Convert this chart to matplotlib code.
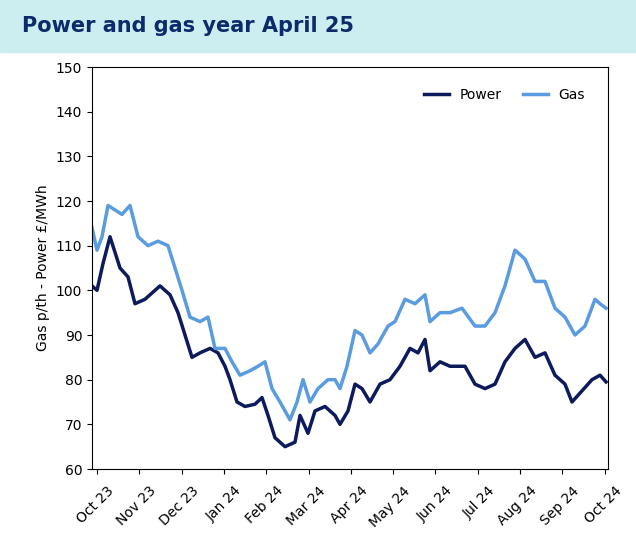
import matplotlib
matplotlib.use("Agg")
import matplotlib.pyplot as plt
import numpy as np

month_labels = ["Oct 23","Nov 23","Dec 23","Jan 24","Feb 24","Mar 24","Apr 24",
                "May 24","Jun 24","Jul 24","Aug 24","Sep 24","Oct 24"]

power_px = [92,97,103,110,120,128,135,145,155,160,170,178,185,192,200,210,218,225,230,237,
            245,255,262,268,275,285,295,300,308,315,325,335,340,348,355,362,370,380,390,400,
            410,418,425,430,440,450,465,475,485,495,505,515,525,535,545,555,565,572,580,592,600,606]
power_val = [101,100,106,112,105,103,97,98,100,101,99,95,90,85,86,87,86,83,80,75,
             74,74.5,76,72,67,65,66,72,68,73,74,72,70,73,79,78,75,79,80,83,
             87,86,89,82,84,83,83,79,78,79,84,87,89,85,86,81,79,75,77,80,81,79.5]
gas_px = [92,97,102,108,115,122,130,138,148,158,168,175,182,190,200,208,215,225,232,240,
          250,258,265,272,280,290,297,303,310,318,328,335,340,347,355,362,370,378,388,395,
          405,415,425,430,440,450,462,475,485,495,505,515,525,535,545,555,565,575,585,595,600,606]
gas_val = [114,109,112,119,118,117,119,112,110,111,110,105,100,94,93,94,87,87,84,81,
           82,83,84,78,75,71,75,80,75,78,80,80,78,83,91,90,86,88,92,93,
           98,97,99,93,95,95,96,92,92,95,101,109,107,102,102,96,94,90,92,98,97,96]

px_to_m = lambda p: (np.array(p) - 97) / 42.3

fig = plt.figure(figsize=(6.36, 5.34), dpi=100)
fig.patches.append(plt.Rectangle((0, 1 - 52/534), 1, 52/534, transform=fig.transFigure,
                                 color="#cdeef0", zorder=0))
fig.text(0.035, 1 - 26/534, "Power and gas year April 25", fontsize=15, fontweight="bold",
         color="#0d2a6b", va="center")

ax = fig.add_axes([92/636, 65/534, 516/636, 402/534])
ax.plot(px_to_m(power_px), power_val, color="#0d1a5c", lw=2.5, label="Power")
ax.plot(px_to_m(gas_px), gas_val, color="#5b9be0", lw=2.5, label="Gas")
ax.set_ylim(60, 150)
ax.set_yticks(range(60, 151, 10))
ax.set_xlim(px_to_m([92])[0], px_to_m([608])[0])
ax.set_xticks(range(13))
ax.set_xticklabels(month_labels, rotation=45, ha="right", rotation_mode="anchor", fontsize=10)
for lbl in ax.get_xticklabels():
    lbl.set_transform(lbl.get_transform() + matplotlib.transforms.ScaledTranslation(0.1, -0.05, fig.dpi_scale_trans))
ax.tick_params(axis="y", labelsize=10)
ax.set_ylabel("Gas p/th - Power £/MWh", fontsize=10)
ax.legend(loc="upper right", frameon=False, ncol=2, fontsize=10, handlelength=1.8,
          columnspacing=1.5, bbox_to_anchor=(0.98, 0.98))
fig.savefig("out.png", dpi=100)
